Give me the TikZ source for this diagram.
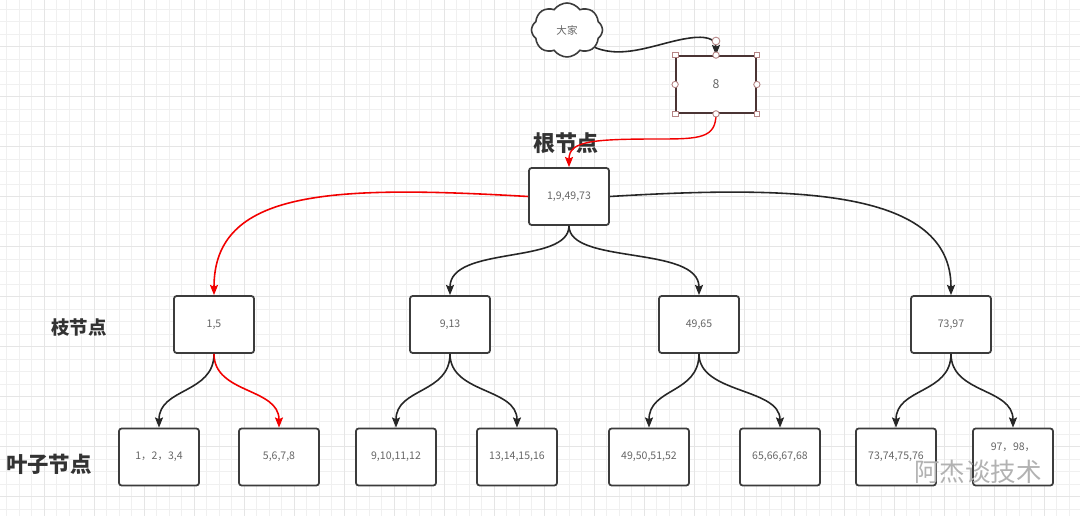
\documentclass[tikz,border=0pt]{standalone}
\usepackage{fontspec}
\setmainfont{Noto Sans CJK SC}
\usepackage{tikz}
\usetikzlibrary{arrows.meta,shapes.symbols,calc}
\usepackage{xcolor}
\definecolor{boxline}{HTML}{3C3C3C}
\definecolor{selline}{HTML}{4A3434}
\definecolor{handle}{HTML}{B58585}
\definecolor{txtgray}{HTML}{666666}

\begin{document}
\begin{tikzpicture}[
    x=0.02cm, y=-0.02cm,
    font=\fontsize{6}{7}\selectfont,
    minorgrid/.style={draw=black!6, line width=0.5pt},
    majorgrid/.style={draw=black!10, line width=0.6pt},
    keybox/.style={draw=boxline, fill=white, line width=1pt, rounded corners=1.5pt,
      minimum width=1.6cm, minimum height=1.14cm, inner sep=0pt, text=txtgray},
    lvl/.style={font=\bfseries, text=black!80},
    edge/.style={-{Stealth[length=5.8pt,width=4.6pt,inset=1pt]}, line width=0.9pt, black!85},
    hot/.style={edge, red!95!black},
    hsq/.style={draw=handle, fill=white, line width=0.5pt, minimum size=3.2pt, inner sep=0pt},
    hci/.style={draw=handle, fill=white, line width=0.5pt, circle, minimum size=3.6pt, inner sep=0pt}
  ]
    \useasboundingbox (0,0) rectangle (1080,516);
    \fill[white] (0,0) rectangle (1080,516);

    % background grid
    \begin{scope}
      \clip (0,0) rectangle (1080,516);
      \foreach \gx in {0,...,86} \draw[minorgrid] ({6.7+12.5*\gx},0) -- ({6.7+12.5*\gx},516);
      \foreach \gy in {0,...,41} \draw[minorgrid] (0,{9.2+12.5*\gy}) -- (1080,{9.2+12.5*\gy});
      \foreach \gx in {0,...,20} \draw[majorgrid] ({44.2+50*\gx},0) -- ({44.2+50*\gx},516);
      \foreach \gy in {0,...,9} \draw[majorgrid] (0,{46.7+50*\gy}) -- (1080,{46.7+50*\gy});
    \end{scope}

    \node[cloud, cloud puffs=8, cloud puff arc=110, aspect=1.3, draw=boxline, fill=white, line width=0.9pt,
      minimum width=1.42cm, minimum height=1.08cm, inner sep=0pt, text=txtgray] (crowd) at (567,30) {大家};
    \node[keybox, draw=selline, rounded corners=0pt, font=\fontsize{7}{8}\selectfont] (eight) at (716,84.5) {8};

    \node[lvl, font=\fontsize{12.5}{14}\selectfont\bfseries] (rootlbl) at (566,143) {根节点};
    \node[lvl, font=\fontsize{10.5}{12}\selectfont\bfseries] (brlbl) at (79,328) {枝节点};
    \node[lvl, font=\fontsize{12.2}{14}\selectfont\bfseries] (leaflbl) at (49,464) {叶子节点};

    \node[keybox] (root) at (569,196.5) {1,9,49,73};

    \node[keybox] (b1) at (214,324.5) {1,5};
    \node[keybox] (b2) at (450,324.5) {9,13};
    \node[keybox] (b3) at (699,324.5) {49,65};
    \node[keybox] (b4) at (951,324.5) {73,97};

    \node[keybox] (l1) at (159,457) {1，2，3,4};
    \node[keybox] (l2) at (279,457) {5,6,7,8};
    \node[keybox] (l3) at (396,457) {9,10,11,12};
    \node[keybox] (l4) at (517,457) {13,14,15,16};
    \node[keybox] (l5) at (649,457) {49,50,51,52};
    \node[keybox] (l6) at (780,457) {65,66,67,68};
    \node[keybox] (l7) at (896,457) {73,74,75,76};
    \node[keybox, text depth=12pt] (l8) at (1013,457) {97，98，};

    % query path from the cloud
    \draw[edge] (crowd.-32) .. controls (625,60) and (660,42) .. (690,38)
      .. controls (712,35) and (716,42) .. (eight.north);
    \draw[hot, line width=0.8pt] (eight.south) .. controls (716,138) and (700,139) .. (660,139)
      .. controls (592,139) and (569,141) .. (root.north);

    % root to branches
    \draw[hot] (root.west) .. controls (330,185) and (214,190) .. (b1.north);
    \draw[edge] (root.south) .. controls (569,265) and (450,245) .. (b2.north);
    \draw[edge] (root.south) .. controls (569,265) and (699,245) .. (b3.north);
    \draw[edge] (root.east) .. controls (800,185) and (951,190) .. (b4.north);

    % branches to leaves
    \foreach \up/\kid/\sty in {b1/l1/edge, b1/l2/hot, b2/l3/edge, b2/l4/edge,
                               b3/l5/edge, b3/l6/edge, b4/l7/edge, b4/l8/edge}
      \draw[\sty] (\up.south) .. controls ($(\up.south)+(0,40)$) and ($(\kid.north)+(0,-40)$) .. (\kid.north);

    % selection handles on the key box
    \foreach \anc in {north west, north east, south west, south east}
      \node[hsq] at (eight.\anc) {};
    \foreach \anc in {north, south, east, west}
      \node[hci] at (eight.\anc) {};
    \node[hci, minimum size=4.4pt] (rot) at (716,41) {};

    \node[text=black!30, font=\fontsize{14.5}{16}\selectfont] (wm) at (978,472) {阿杰谈技术};
  \end{tikzpicture}
\end{document}
